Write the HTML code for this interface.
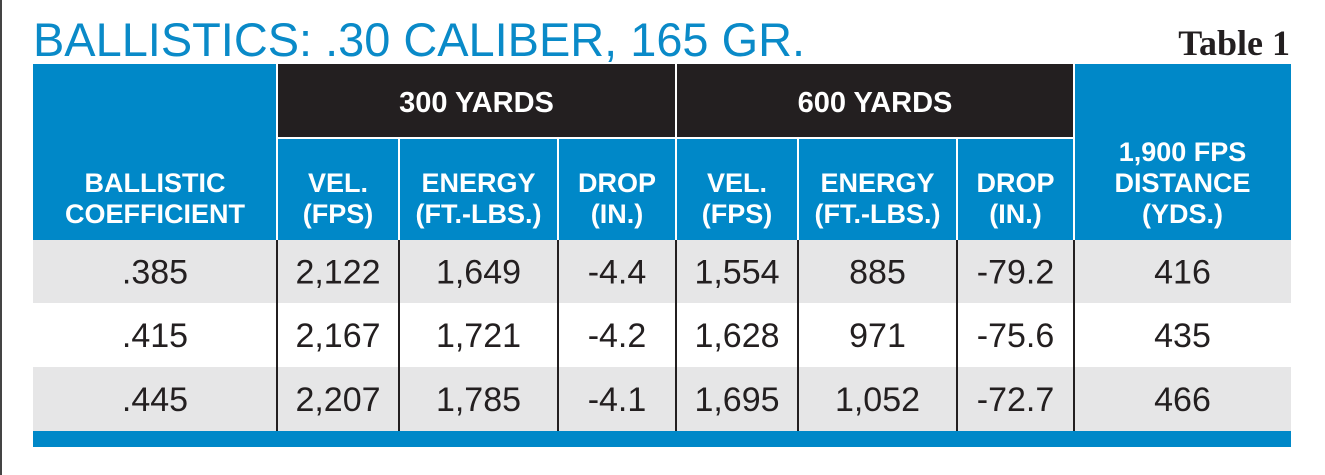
<!DOCTYPE html>
<html><head><meta charset="utf-8"><style>
html,body{margin:0;padding:0;background:#fff;width:1325px;height:475px;overflow:hidden}
svg{display:block}
</style></head><body>
<svg width="1325" height="475" viewBox="0 0 1325 475" xmlns="http://www.w3.org/2000/svg">
<rect x="0" y="0" width="1325" height="475" fill="#fff"/>
<rect x="0" y="0" width="2" height="475" fill="#444"/>
<text x="33" y="56" font-family="Liberation Sans, sans-serif" font-size="47" fill="#0a8ac8" textLength="772" lengthAdjust="spacingAndGlyphs">BALLISTICS: .30 CALIBER, 165 GR.</text>
<text x="1290" y="55" text-anchor="end" font-family="Liberation Serif, serif" font-weight="bold" font-size="36" fill="#231f20">Table 1</text>
<g id="tbl"></g>
</svg>
<script>
const cols=[33,277,399,558,676,798,957,1074,1291];
const rowsY=[240,303,367,431];
const coef=['.385','.415','.445'];
const vel300=['2,122','2,167','2,207'];
const en300=['1,649','1,721','1,785'];
const drop300=['-4.4','-4.2','-4.1'];
const vel600=['1,554','1,628','1,695'];
const en600=['885','971','1,052'];
const drop600=['-79.2','-75.6','-72.7'];
const dist=['416','435','466'];
const NS='http://www.w3.org/2000/svg';
const g=document.getElementById('tbl');
function mk(t,a,name){const e=document.createElementNS(NS,t);for(const k in a)e.setAttribute(k,a[k]);


g.appendChild(e);return e;}
const BLUE='#0088c8',BLACK='#231f20';
// header backgrounds
mk('rect',{x:33,y:64,width:1258,height:176,fill:BLUE},'header-bg');
mk('rect',{x:277,y:64,width:797,height:74,fill:BLACK},'yards-header-bg');
// data rows
for(let i=0;i<3;i++){
  mk('rect',{x:33,y:rowsY[i],width:1258,height:rowsY[i+1]-rowsY[i],fill:i%2==0?'#e6e6e7':'#fff'},'row-bg-'+(i+1));
}
mk('rect',{x:33,y:431,width:1258,height:16,fill:BLUE},'bottom-bar');
// lines
mk('line',{x1:277,y1:138,x2:1074,y2:138,stroke:'#fff','stroke-width':2},'header-divider');
[1,7].forEach(c=>mk('line',{x1:cols[c],y1:64,x2:cols[c],y2:240,stroke:'#fff','stroke-width':2},'header-col-line'));
mk('line',{x1:676,y1:64,x2:676,y2:240,stroke:'#fff','stroke-width':2},'header-col-line');
[2,3,5,6].forEach(c=>mk('line',{x1:cols[c],y1:138,x2:cols[c],y2:240,stroke:'#fff','stroke-width':2},'header-col-line'));
for(let c=1;c<8;c++)mk('line',{x1:cols[c],y1:240,x2:cols[c],y2:431,stroke:BLACK,'stroke-width':2},'body-col-line');
function txt(s,x,y,size,fill,name,w){const e=mk('text',{x:x,y:y,'text-anchor':'middle','font-family':'Liberation Sans, sans-serif','font-size':size,fill:fill},name);
if(w)e.setAttribute('font-weight',w);e.textContent=s;return e;}
txt('300 YARDS',(277+676)/2,112,29,'#fff','header-300-yards','bold');
txt('600 YARDS',(676+1074)/2,112,29,'#fff','header-600-yards','bold');
const sub=[['BALLISTIC','COEFFICIENT'],['VEL.','(FPS)'],['ENERGY','(FT.-LBS.)'],['DROP','(IN.)'],['VEL.','(FPS)'],['ENERGY','(FT.-LBS.)'],['DROP','(IN.)']];
sub.forEach((s,i)=>{const cx=(cols[i]+cols[i+1])/2;
 txt(s[0],cx,192,27,'#fff','column-header','bold');txt(s[1],cx,223,27,'#fff','column-header','bold');});
const cx8=(1074+1291)/2;
txt('1,900 FPS',cx8,161,27,'#fff','column-header','bold');
txt('DISTANCE',cx8,192,27,'#fff','column-header','bold');
txt('(YDS.)',cx8,223,27,'#fff','column-header','bold');
const series=[coef,vel300,en300,drop300,vel600,en600,drop600,dist];
for(let r=0;r<3;r++){const y=(rowsY[r]+rowsY[r+1])/2+12;
 series.forEach((arr,c)=>txt(arr[r],(cols[c]+cols[c+1])/2,y,34,BLACK,'cell-r'+(r+1)+'-c'+(c+1)));}
</script>
</body></html>
